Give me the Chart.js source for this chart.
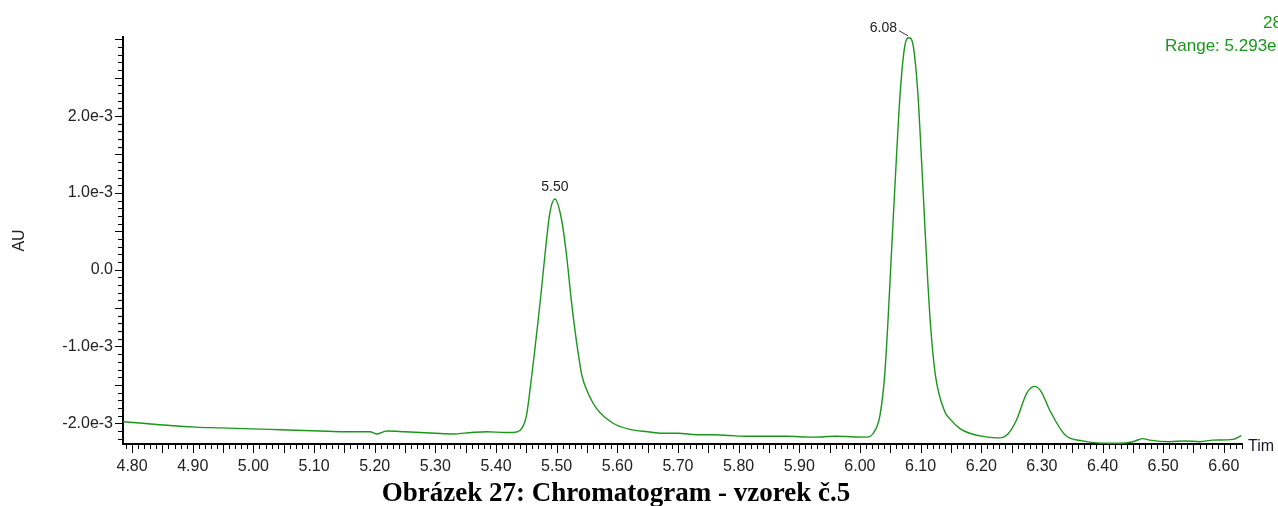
<!DOCTYPE html>
<html lang="cs">
<head>
<meta charset="utf-8">
<title>Chromatogram - vzorek č.5</title>
<script src="https://cdn.jsdelivr.net/npm/chart.js@4.4.1/dist/chart.umd.min.js"></script>
<style>
    html, body { margin: 0; padding: 0; background: #fff; }
    #chromCanvas { display: block; }
</style>
</head>
<body>
<canvas id="chromCanvas" width="1278" height="506"></canvas>
<script>
'use strict';

// 1. DATA (time in min, signal in 1e-3 AU)
const timeMin = [
    4.785, 4.818, 4.863, 4.905, 4.945, 4.985, 5.027, 5.070, 5.110, 5.150, 5.192, 5.204, 5.220,
    5.250, 5.275, 5.300, 5.329, 5.360, 5.385, 5.415, 5.428, 5.440, 5.4502, 5.4577, 5.4636, 5.4685,
    5.4745, 5.4811, 5.4888, 5.4972, 5.5079, 5.5157, 5.5246, 5.5328, 5.5417, 5.5508, 5.566, 5.593, 5.621,
    5.650, 5.675, 5.700, 5.731, 5.760, 5.786, 5.815, 5.840, 5.880, 5.922, 5.960, 6.011, 6.022,
    6.033, 6.0408, 6.0459, 6.0515, 6.0543, 6.0601, 6.0664, 6.074, 6.081, 6.088, 6.0955, 6.1015, 6.1071,
    6.1114, 6.1165, 6.1246, 6.140, 6.148, 6.165, 6.185, 6.203, 6.231, 6.244, 6.258, 6.275, 6.288,
    6.299, 6.313, 6.338, 6.367, 6.407, 6.428, 6.450, 6.466, 6.478, 6.511, 6.535, 6.560, 6.582,
    6.615, 6.629
];
const signal = [
    -1.98, -2.00, -2.03, -2.05, -2.06, -2.07, -2.08, -2.09, -2.10, -2.11, -2.11, -2.14, -2.10,
    -2.11, -2.12, -2.13, -2.14, -2.12, -2.11, -2.12, -2.12, -2.09, -1.90, -1.46, -1.07, -0.73,
    -0.29, 0.22, 0.74, 0.92, 0.66, 0.23, -0.43, -0.94, -1.38, -1.59, -1.81, -2.00, -2.08,
    -2.11, -2.13, -2.13, -2.15, -2.15, -2.16, -2.17, -2.17, -2.17, -2.18, -2.17, -2.18, -2.13,
    -1.90, -1.38, -0.73, 0.14, 0.57, 1.44, 2.30, 2.91, 3.02, 2.91, 2.30, 1.44, 0.57,
    -0.08, -0.73, -1.38, -1.85, -1.94, -2.07, -2.14, -2.17, -2.19, -2.14, -1.96, -1.61, -1.52,
    -1.59, -1.83, -2.15, -2.23, -2.26, -2.26, -2.24, -2.20, -2.22, -2.24, -2.23, -2.24, -2.22,
    -2.21, -2.16
];

// Peak annotations (retention time labels)
const peakLabels = ['5.50', '6.08'];
const peakTimes = [5.4972, 6.081];
const peakHeights = [0.92, 3.02];

// Axis ticks
const xTickValues = [4.8, 4.9, 5.0, 5.1, 5.2, 5.3, 5.4, 5.5, 5.6, 5.7, 5.8, 5.9, 6.0, 6.1, 6.2, 6.3, 6.4, 6.5, 6.6];
const yTickValues = [-2, -1, 0, 1, 2];

// Header texts
const channelText = '28';
const rangeText = 'Range: 5.293e';
const captionText = 'Obrázek 27: Chromatogram - vzorek č.5';

// 2. STYLE
const TRACE_GREEN = '#1a961a';
const LABEL_COLOR = '#222';
const SANS = '"Liberation Sans", Arial, sans-serif';
const SERIF = '"Liberation Serif", "Times New Roman", serif';

// 3. PLUGIN: minor ticks, peak labels, texts
const chromDecor = {
    id: 'chromDecor',
    afterDraw(chart) {
        const c = chart.ctx;
        const xs = chart.scales.x;
        const ys = chart.scales.y;
        const area = chart.chartArea;

        c.save();
        c.strokeStyle = '#000';
        c.lineWidth = 1;

        // x ticks every 0.01 min, longer on 0.05
        c.beginPath();
        for (let i = 479; i <= 663; i++) {
            const px = Math.round(xs.getPixelForValue(i / 100)) + 0.5;
            const len = (i % 5 === 0) ? 9 : 5;
            c.moveTo(px, area.bottom);
            c.lineTo(px, area.bottom + len);
        }
        // y ticks every 0.1e-3, longer on 0.5e-3
        for (let j = -22; j <= 30; j++) {
            const py = Math.round(ys.getPixelForValue(j / 10)) + 0.5;
            const len = (j % 5 === 0) ? 8 : 5;
            c.moveTo(area.left, py);
            c.lineTo(area.left - len, py);
        }
        c.stroke();

        // peak labels
        c.font = '14px ' + SANS;
        c.fillStyle = LABEL_COLOR;
        c.textBaseline = 'middle';
        peakLabels.forEach((txt, k) => {
            const px = xs.getPixelForValue(peakTimes[k]);
            const py = ys.getPixelForValue(peakHeights[k]);
            if (k === 0) {
                c.textAlign = 'center';
                c.fillText(txt, px, py - 12);
            } else {
                c.textAlign = 'right';
                c.fillText(txt, px - 12, py - 10);
                c.beginPath();
                c.strokeStyle = '#333';
                c.moveTo(px - 10, py - 7);
                c.lineTo(px - 1, py - 2);
                c.stroke();
            }
        });

        // axis titles
        c.font = '16px ' + SANS;
        c.fillStyle = '#1a1a2e';
        c.textAlign = 'left';
        c.fillText('Tim', area.right + 6, area.bottom + 3);

        c.save();
        c.translate(20, (area.top + area.bottom) / 2);
        c.rotate(-Math.PI / 2);
        c.textAlign = 'center';
        c.fillStyle = LABEL_COLOR;
        c.fillText('AU', 0, 0);
        c.restore();

        // channel / range header
        c.font = '17px ' + SANS;
        c.fillStyle = TRACE_GREEN;
        c.textAlign = 'left';
        c.fillText(channelText, 1263, 23);
        c.fillText(rangeText, 1165, 46);

        // caption
        c.font = 'bold 27px ' + SERIF;
        c.fillStyle = '#000';
        c.textAlign = 'center';
        c.textBaseline = 'alphabetic';
        c.fillText(captionText, 616, 501);

        c.restore();
    }
};

// 4. CHART
const ctx = document.getElementById('chromCanvas').getContext('2d');
const chart = new Chart(ctx, {
    type: 'line',
    data: {
        datasets: [{
            data: timeMin.map((t, i) => ({ x: t, y: signal[i] })),
            borderColor: TRACE_GREEN,
            borderWidth: 1.4,
            pointRadius: 0,
            fill: false,
            cubicInterpolationMode: 'monotone'
        }]
    },
    options: {
        responsive: false,
        animation: false,
        layout: { padding: { left: 0, top: 37, right: 36, bottom: 0 } },
        plugins: {
            legend: { display: false },
            tooltip: { enabled: false }
        },
        scales: {
            x: {
                type: 'linear',
                min: 4.785,
                max: 6.63,
                afterBuildTicks: s => { s.ticks = xTickValues.map(v => ({ value: v })); },
                afterFit: s => { s.height = 62; },
                grid: { display: false, drawTicks: false },
                border: { display: true, color: '#000', width: 2 },
                ticks: {
                    padding: 13,
                    maxRotation: 0,
                    autoSkip: false,
                    color: LABEL_COLOR,
                    font: { family: SANS, size: 16 },
                    callback: v => v.toFixed(2)
                }
            },
            y: {
                type: 'linear',
                min: -2.27,
                max: 3.03,
                afterBuildTicks: s => { s.ticks = yTickValues.map(v => ({ value: v })); },
                afterFit: s => { s.width = 123; },
                grid: { display: false, drawTicks: false },
                border: { display: true, color: '#000', width: 2 },
                ticks: {
                    padding: 10,
                    color: LABEL_COLOR,
                    font: { family: SANS, size: 16 },
                    callback: v => v === 0 ? '0.0' : v.toFixed(1) + 'e-3'
                }
            }
        }
    },
    plugins: [chromDecor]
});
</script>
</body>
</html>
